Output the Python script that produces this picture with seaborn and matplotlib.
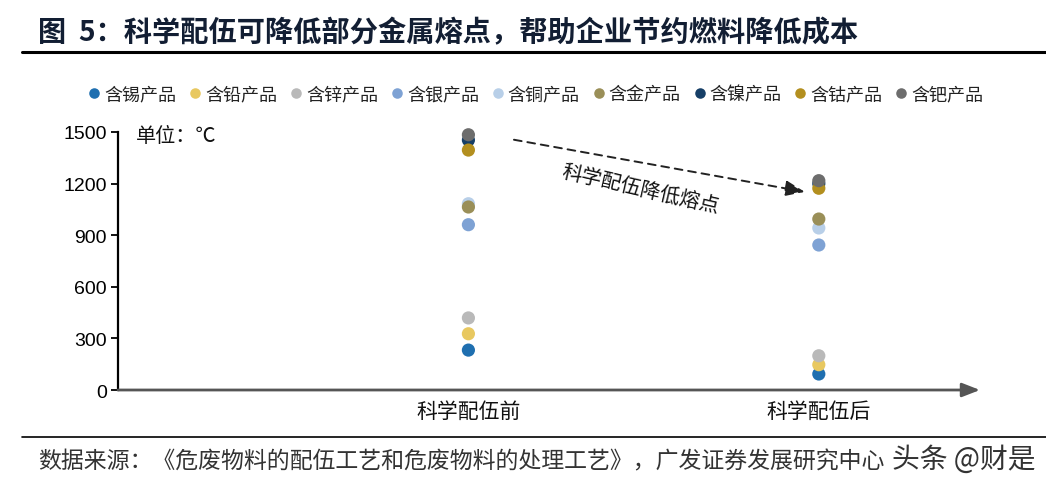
import matplotlib
matplotlib.use("Agg")
import matplotlib.pyplot as plt
import seaborn as sns
import pandas as pd

sns.set_theme(style="white")
plt.rcParams['font.family'] = ['Noto Sans CJK SC', 'DejaVu Sans']

# ---------------- data ----------------
stages = ["科学配伍前", "科学配伍后"]
products = ["含锡产品", "含铅产品", "含锌产品", "含银产品", "含铜产品",
            "含金产品", "含镍产品", "含钴产品", "含钯产品"]
before_vals = [232, 327, 419, 961, 1083, 1064, 1453, 1395, 1484]
after_vals = [93, 147, 199, 843, 942, 994, 1200, 1173, 1217]
colors = ["#1f6fb0", "#e8c860", "#b9b9b9", "#7ea2d4", "#b8cfe8",
          "#9a8f58", "#163f67", "#b38f1f", "#6d6d6d"]
yticks = [0, 300, 600, 900, 1200, 1500]
title = "图  5：科学配伍可降低部分金属熔点，帮助企业节约燃料降低成本"
unit_text = "单位：℃"
arrow_text = "科学配伍降低熔点"
source_text = "数据来源：《危废物料的配伍工艺和危废物料的处理工艺》，广发证券发展研究中心"
watermark = "头条 @财是"

rows = []
for stage, vals in zip(stages, [before_vals, after_vals]):
    for p, v in zip(products, vals):
        rows.append({"stage": stage, "pos": stages.index(stage) + 1, "product": p, "value": v})
df = pd.DataFrame(rows)

# ---------------- figure ----------------
fig = plt.figure(figsize=(10.46, 4.85), dpi=100)
ax = fig.add_axes([118/1046, 1-391/485, (980-118)/1046, (391-133)/485])

sns.scatterplot(data=df, x="pos", y="value", hue="product", hue_order=products,
                palette=colors, s=90, linewidth=0, alpha=1, ax=ax, legend=True)
for c in ax.collections:
    c.set_clip_on(False)

ax.set_xlim(0.0, 2.46)
ax.set_ylim(0, 1500)
ax.set_yticks(yticks)
ax.set_yticklabels([str(t) for t in yticks], family=['Liberation Sans', 'DejaVu Sans'],
                   fontsize=14, color='black')
ax.set_xticks([1, 2])
ax.set_xticklabels(stages, fontsize=15, color='#111111')
ax.tick_params(axis='x', length=0, pad=7)
ax.tick_params(axis='y', length=5, width=1.3, direction='out', color='black', pad=3, left=True)
ax.set_xlabel("")
ax.set_ylabel("")
for s in ["top", "right"]:
    ax.spines[s].set_visible(False)
ax.spines["left"].set_color("black")
ax.spines["left"].set_linewidth(1.6)
ax.spines["bottom"].set_visible(False)
# x axis with arrow head
ax.annotate("", xy=(1.0, 0), xycoords=('axes fraction', 'data'),
            xytext=(0.0, 0), textcoords=('axes fraction', 'data'),
            arrowprops=dict(arrowstyle="-|>,head_length=0.9,head_width=0.35",
                            color="#555555", lw=2, shrinkA=0, shrinkB=0),
            annotation_clip=False)

# legend
handles, labels = ax.get_legend_handles_labels()
ax.get_legend().remove()
leg = fig.legend(handles, labels, loc='center left', bbox_to_anchor=(78/1046, 1-95/485),
                 ncol=9, frameon=False, fontsize=13, handletextpad=0.05, handlelength=1.0,
                 columnspacing=0.55, markerscale=0.8, borderaxespad=0)
for t in leg.get_texts():
    t.set_color("#222222")

# unit text
ax.text(0.05, 1480, unit_text, fontsize=14.5, va='center', ha='left', color='#111111')

# dashed arrow
ax.annotate("", xy=(1.96, 1152), xytext=(1.13, 1455),
            arrowprops=dict(arrowstyle="-|>,head_length=1.0,head_width=0.4", color="#222222",
                            lw=1.4, linestyle=(0, (4, 3)), shrinkA=0, shrinkB=0))
ax.text(1.49, 1170, arrow_text, fontsize=14.5, rotation=-13, ha='center', va='center',
        color='#111111', rotation_mode='anchor')

# title and frame lines
fig.text(38/1046, 1-33/485, title, fontsize=20.3, fontweight='bold', color='#121e33',
         ha='left', va='center')
fig.add_artist(plt.Line2D([22/1046, 1.0], [1-53/485]*2, color='black', lw=2.2))
fig.add_artist(plt.Line2D([22/1046, 1.0], [1-438/485]*2, color='black', lw=1.2))
fig.text(38/1046, 1-462/485, source_text, fontsize=16.5, color='#333333', ha='left', va='center')
fig.text(1036/1046, 1-460/485, watermark, fontsize=20, fontweight='medium', color='#333333',
         ha='right', va='center', bbox=dict(facecolor='white', edgecolor='none', pad=1))

fig.savefig("out.png", dpi=100)
